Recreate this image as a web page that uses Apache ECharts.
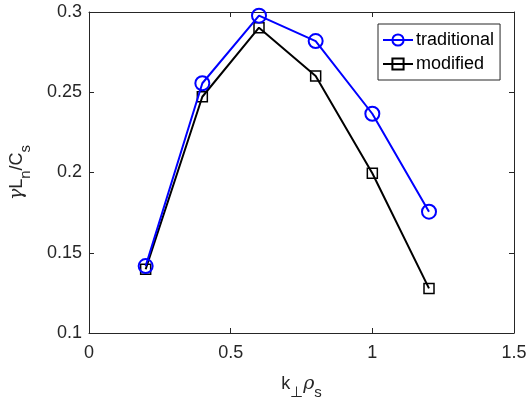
<!DOCTYPE html>
<html>
<head>
<meta charset="utf-8">
<script src="https://cdn.jsdelivr.net/npm/echarts@6/dist/echarts.min.js"></script>
<style>
  html, body { margin: 0; padding: 0; background: #fff; }
  #chart { width: 526px; height: 403px; }
</style>
</head>
<body>
<div id="chart"></div>
<script>
//--------------------------------
// Data
//--------------------------------
const kRho = [0.2, 0.4, 0.6, 0.8, 1.0, 1.2];
const traditional = [0.1417, 0.2556, 0.2977, 0.2819, 0.2366, 0.1756];
const modified = [0.1397, 0.2472, 0.2902, 0.2601, 0.1995, 0.1278];
const xTicks = [0, 0.5, 1, 1.5];
const yTicks = [0.1, 0.15, 0.2, 0.25, 0.3];

const FONT = 'Liberation Sans, Arial, sans-serif';
const AXIS_COLOR = '#262626';
const BLUE = '#0000ff';

const pairs = (xs, ys) => xs.map((x, i) => [x, ys[i]]);
const tickFmt = (v) => String(+v.toFixed(2));

//--------------------------------
// Axes
//--------------------------------
const xRange = { min: xTicks[0], max: xTicks[xTicks.length - 1], interval: xTicks[1] - xTicks[0] };
const yRange = { min: yTicks[0], max: yTicks[yTicks.length - 1], interval: +(yTicks[1] - yTicks[0]).toFixed(2) };

const subRich = {
    a: { fontSize: 18, fontFamily: FONT, color: AXIS_COLOR, padding: [0, 0, 6, 0] },
    g: { fontSize: 19, fontFamily: 'DejaVu Serif, serif', fontStyle: 'italic', color: AXIS_COLOR, padding: [0, 0, 6, 0] },
    sub: { fontSize: 15, fontFamily: FONT, color: AXIS_COLOR, padding: [10, 0, 0, 0] }
};

const baseAxis = {
    type: 'value',
    axisLine: { show: true, onZero: false, lineStyle: { color: AXIS_COLOR, width: 1 } },
    axisTick: { show: true, inside: true, length: 5, lineStyle: { color: AXIS_COLOR } },
    splitLine: { show: false }
};

let myChart = echarts.init(document.getElementById('chart'));

let options = {
    animation: false,
    backgroundColor: '#fff',
    grid: {
        left: 89,
        right: 12,
        top: 12,
        bottom: 70,
        containLabel: false,
        outerBoundsMode: 'none'
    },
    legend: {
        orient: 'vertical',
        left: 378,
        top: 24,
        backgroundColor: '#fff',
        borderColor: AXIS_COLOR,
        borderWidth: 1,
        borderRadius: 0,
        padding: [7, 6, 7, 4],
        itemGap: 6,
        itemWidth: 30,
        itemHeight: 14,
        textStyle: { fontSize: 18, fontFamily: FONT, color: '#000', padding: [0, 0, 0, -2] },
        data: ['traditional', 'modified']
    },
    xAxis: [
        Object.assign({}, baseAxis, xRange, {
            position: 'bottom',
            axisLabel: { fontSize: 18, fontFamily: FONT, color: AXIS_COLOR, margin: 11, formatter: tickFmt },
            name: '{a|k}{sub|⊥}{g|ρ}{sub|s}',
            nameLocation: 'middle',
            nameGap: 42,
            nameTextStyle: { rich: subRich }
        }),
        Object.assign({}, baseAxis, xRange, {
            position: 'top',
            axisLabel: { show: false }
        })
    ],
    yAxis: [
        Object.assign({}, baseAxis, yRange, {
            position: 'left',
            axisLabel: { fontSize: 18, fontFamily: FONT, color: AXIS_COLOR, margin: 7, formatter: tickFmt },
            name: '{g|γ}{a|L}{sub|n}{a|/C}{sub|s}',
            nameLocation: 'middle',
            nameGap: 56,
            nameTextStyle: { rich: subRich }
        }),
        Object.assign({}, baseAxis, yRange, {
            position: 'right',
            axisLabel: { show: false }
        })
    ],
    series: [
        {
            name: 'traditional',
            type: 'line',
            data: pairs(kRho, traditional),
            symbol: 'circle',
            symbolSize: 14,
            z: 3,
            lineStyle: { color: BLUE, width: 2 },
            itemStyle: { color: 'rgba(0,0,0,0)', borderColor: BLUE, borderWidth: 2 }
        },
        {
            name: 'modified',
            type: 'line',
            data: pairs(kRho, modified),
            symbol: 'rect',
            symbolSize: 10,
            z: 2,
            lineStyle: { color: '#000', width: 2 },
            itemStyle: { color: 'rgba(0,0,0,0)', borderColor: '#000', borderWidth: 1.5 }
        }
    ]
};
myChart.setOption(options);
</script>
</body>
</html>
